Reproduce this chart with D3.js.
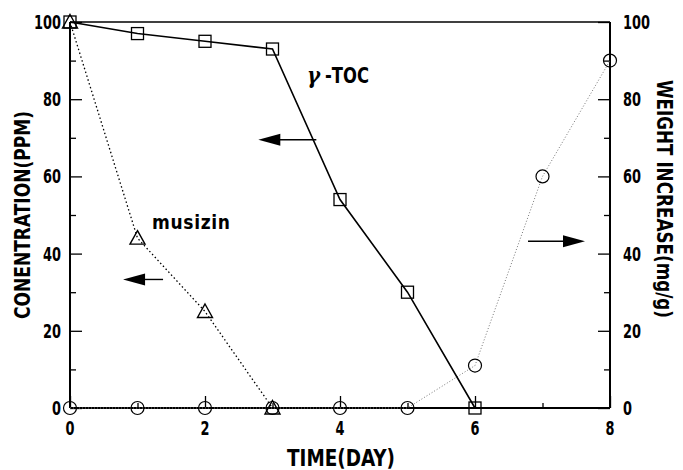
<!DOCTYPE html>
<html>
<head>
<meta charset="utf-8">
<script src="https://cdn.jsdelivr.net/npm/d3@7/dist/d3.min.js"></script>
<style>
  html, body { margin: 0; padding: 0; background: #fff; }
  svg text { font-family: "DejaVu Sans", "Liberation Sans", sans-serif; font-stretch: condensed; font-weight: bold; fill: #000; }
</style>
</head>
<body>
<svg id="chart" width="683" height="470"></svg>
<script>
// Time axis (days)
const days = [0, 1, 2, 3, 4, 5, 6, 7, 8];

// γ-TOC concentration (PPM), left axis
const tocDays = [0, 1, 2, 3, 4, 5, 6];
const tocValues = [100, 97, 95, 93, 54, 30, 0];

// musizin concentration (PPM), left axis
const musDays = [0, 1, 2, 3];
const musValues = [100, 44, 25, 0];

// weight increase (mg/g), right axis
const wtDays = [0, 1, 2, 3, 4, 5, 6, 7, 8];
const wtValues = [0, 0, 0, 0, 0, 0, 11, 60, 90];

const xTicks = [0, 2, 4, 6, 8];
const yTicks = [0, 20, 40, 60, 80, 100];

const svg = d3.select("#chart");
const m = { left: 70, right: 610, top: 22, bottom: 408 };

const x = d3.scaleLinear().domain([0, 8]).range([m.left, m.right]);
const yL = d3.scaleLinear().domain([0, 100]).range([m.bottom, m.top]);
const yR = d3.scaleLinear().domain([0, 100]).range([m.bottom, m.top]);

// narrow digits: about 9px per character
const digitWidth = s => String(s).length * 9;

// frame
const frame = svg.append("g").attr("stroke", "#000").attr("fill", "none");
frame.append("line").attr("x1", m.left).attr("x2", m.right).attr("y1", m.top).attr("y2", m.top).attr("stroke-width", 1.6);
frame.append("line").attr("x1", m.left).attr("x2", m.right).attr("y1", m.bottom).attr("y2", m.bottom).attr("stroke-width", 2);
frame.append("line").attr("x1", m.left).attr("x2", m.left).attr("y1", m.top).attr("y2", m.bottom).attr("stroke-width", 2);
frame.append("line").attr("x1", m.right).attr("x2", m.right).attr("y1", m.top).attr("y2", m.bottom).attr("stroke-width", 2);

// axes with inward ticks
const leftAxis = d3.axisRight(yL).tickValues(d3.range(0, 101, 10)).tickSize(0).tickFormat("");
const gL = svg.append("g").attr("transform", `translate(${m.left},0)`).call(leftAxis);
gL.select(".domain").remove();
gL.selectAll(".tick line").attr("x2", d => d % 20 === 0 ? 12 : 6).attr("stroke", "#000").attr("stroke-width", 1.3);

const rightAxis = d3.axisLeft(yR).tickValues(d3.range(0, 101, 10)).tickSize(0).tickFormat("");
const gR = svg.append("g").attr("transform", `translate(${m.right},0)`).call(rightAxis);
gR.select(".domain").remove();
gR.selectAll(".tick line").attr("x2", d => d % 20 === 0 ? -12 : -6).attr("stroke", "#000").attr("stroke-width", 1.3);

const bottomAxis = d3.axisTop(x).tickValues(days).tickSize(0).tickFormat("");
const gB = svg.append("g").attr("transform", `translate(0,${m.bottom})`).call(bottomAxis);
gB.select(".domain").remove();
gB.selectAll(".tick line").attr("y2", d => d % 2 === 0 ? -12 : -5).attr("stroke", "#000").attr("stroke-width", 1.3);

// tick labels
svg.append("g").selectAll("text").data(yTicks).join("text")
  .attr("x", m.left - 9).attr("y", d => yL(d) + 7)
  .attr("text-anchor", "end").attr("font-size", 20)
  .attr("textLength", d => digitWidth(d)).attr("lengthAdjust", "spacingAndGlyphs").text(d => d);
svg.append("g").selectAll("text").data(yTicks).join("text")
  .attr("x", m.right + 13).attr("y", d => yR(d) + 7)
  .attr("text-anchor", "start").attr("font-size", 20)
  .attr("textLength", d => digitWidth(d)).attr("lengthAdjust", "spacingAndGlyphs").text(d => d);
svg.append("g").selectAll("text").data(xTicks).join("text")
  .attr("x", d => x(d)).attr("y", m.bottom + 27)
  .attr("text-anchor", "middle").attr("font-size", 20)
  .attr("textLength", d => digitWidth(d)).attr("lengthAdjust", "spacingAndGlyphs").text(d => d);

// axis titles
svg.append("text").attr("transform", `translate(30,215) rotate(-90)`)
  .attr("text-anchor", "middle").attr("font-size", 22)
  .attr("textLength", 208).attr("lengthAdjust", "spacingAndGlyphs")
  .text("CONENTRATION(PPM)");
svg.append("text").attr("transform", `translate(657,199) rotate(90)`)
  .attr("text-anchor", "middle").attr("font-size", 22)
  .attr("textLength", 238).attr("lengthAdjust", "spacingAndGlyphs")
  .text("WEIGHT INCREASE(mg/g)");
svg.append("text").attr("x", 341).attr("y", 466)
  .attr("text-anchor", "middle").attr("font-size", 23)
  .attr("textLength", 108).attr("lengthAdjust", "spacingAndGlyphs")
  .text("TIME(DAY)");

// weight increase: thin grey dotted line with open circles
const wtPts = wtDays.map((d, i) => [d, wtValues[i]]);
svg.append("path").datum(wtPts)
  .attr("d", d3.line().x(d => x(d[0])).y(d => yR(d[1])))
  .attr("fill", "none").attr("stroke", "#777").attr("stroke-width", 1).attr("stroke-dasharray", "1,2");

// musizin: dotted line with open triangles
const musPts = musDays.map((d, i) => [d, musValues[i]]);
svg.append("path").datum(musPts)
  .attr("d", d3.line().x(d => x(d[0])).y(d => yL(d[1])))
  .attr("fill", "none").attr("stroke", "#000").attr("stroke-width", 1.3).attr("stroke-dasharray", "1.5,2.5");

// γ-TOC: solid line with open squares
const tocPts = tocDays.map((d, i) => [d, tocValues[i]]);
svg.append("path").datum(tocPts)
  .attr("d", d3.line().x(d => x(d[0])).y(d => yL(d[1])))
  .attr("fill", "none").attr("stroke", "#000").attr("stroke-width", 1.6);

svg.append("g").selectAll("circle").data(wtPts).join("circle")
  .attr("cx", d => x(d[0])).attr("cy", d => yR(d[1])).attr("r", 6.5)
  .attr("fill", "none").attr("stroke", "#000").attr("stroke-width", 1.2);

svg.append("g").selectAll("path").data(musPts).join("path")
  .attr("transform", d => `translate(${x(d[0])},${yL(d[1])})`)
  .attr("d", "M0,-7.5 L7.5,6 L-7.5,6 Z")
  .attr("fill", "none").attr("stroke", "#000").attr("stroke-width", 1.4);

svg.append("g").selectAll("rect").data(tocPts).join("rect")
  .attr("x", d => x(d[0]) - 6).attr("y", d => yL(d[1]) - 6)
  .attr("width", 12).attr("height", 12)
  .attr("fill", "none").attr("stroke", "#000").attr("stroke-width", 1.3);

// series labels
const tocLabel = svg.append("text").attr("x", 307).attr("y", 83).attr("font-size", 22);
tocLabel.append("tspan").attr("font-family", "DejaVu Serif, serif").attr("font-style", "italic").text("γ");
tocLabel.append("tspan").attr("dx", 5).attr("textLength", 44).attr("lengthAdjust", "spacingAndGlyphs").text("-TOC");
svg.append("text").attr("x", 152).attr("y", 229).attr("font-size", 19)
  .attr("textLength", 78).attr("lengthAdjust", "spacing")
  .text("musizin");

// arrows pointing toward the axis each series belongs to
function arrow(tipDay, yVal, scale, dir, shaftLen) {
  const tx = x(tipDay), ty = scale(yVal);
  const head = 22, half = 6;
  svg.append("line")
    .attr("x1", tx + dir * head - dir * 2).attr("x2", tx + dir * shaftLen)
    .attr("y1", ty).attr("y2", ty)
    .attr("stroke", "#000").attr("stroke-width", 1.4);
  svg.append("path")
    .attr("d", `M${tx},${ty} L${tx + dir * head},${ty - half} L${tx + dir * head},${ty + half} Z`)
    .attr("fill", "#000");
}
arrow(2.79, 69.5, yL, 1, 58);
arrow(0.786, 33.3, yL, 1, 40);
arrow(7.63, 43.2, yR, -1, 57);
</script>
</body>
</html>
